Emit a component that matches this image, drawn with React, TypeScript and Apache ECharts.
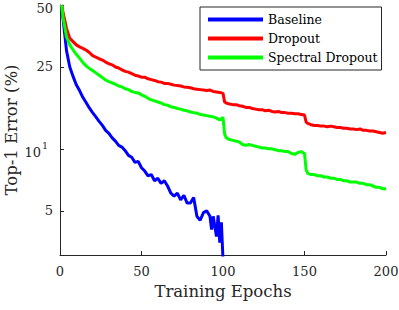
import React, { useEffect, useRef } from "react";
import * as echarts from "echarts";

// ---- data ----
const epochs = [
  1, 2, 4, 6, 8, 10, 12, 14, 16, 18, 20, 22, 24, 26, 28, 30, 32, 34, 36, 38, 40,
  42, 44, 46, 48, 50, 52, 54, 56, 58, 60, 62, 64, 66, 68, 70, 72, 74, 76, 78, 80,
  82, 84, 86, 88, 90, 92, 94, 96, 98, 100, 101, 102, 104, 106, 108, 110, 112, 114,
  116, 118, 120, 122, 124, 126, 128, 130, 132, 134, 136, 138, 140, 142, 144, 146,
  148, 150, 151, 152, 154, 156, 158, 160, 162, 164, 166, 168, 170, 172, 174, 176,
  178, 180, 182, 184, 186, 188, 190, 192, 194, 196, 198, 200,
];

const dropout = [
  50, 45.5, 38.5, 34.5, 33.2, 32.0, 31.3, 30.8, 30.2, 29.4, 28.4, 27.9, 27.4, 27.0,
  26.4, 25.9, 25.6, 25.0, 24.7, 24.2, 23.8, 23.6, 23.2, 22.8, 22.6, 22.3, 22.3, 21.9,
  21.7, 21.5, 21.2, 21.1, 20.8, 20.8, 20.6, 20.4, 20.3, 20.2, 20.0, 19.9, 19.8, 19.6,
  19.5, 19.4, 19.3, 19.2, 19.3, 19.0, 18.9, 18.8, 18.6,
  16.9, 16.7, 16.5, 16.4, 16.4, 16.2, 16.1, 15.9, 15.9, 15.7, 15.6, 15.5, 15.5, 15.3,
  15.4, 15.2, 15.1, 15.2, 15.0, 15.0, 14.9, 14.9, 14.8, 14.8, 14.7, 14.6,
  13.5, 13.3, 13.1, 13.0, 13.0, 12.9, 12.9, 12.8, 12.9, 12.8, 12.7, 12.7, 12.6, 12.6,
  12.5, 12.5, 12.4, 12.5, 12.3, 12.3, 12.2, 12.2, 12.1, 12.0, 11.9, 12.0,
];

const spectralDropout = [
  50, 43, 35, 32, 30.3, 28.8, 27.6, 26.3, 25.3, 24.6, 24.0, 23.4, 22.8, 22.2, 21.6,
  21.2, 20.9, 20.6, 20.2, 20.0, 19.6, 19.4, 19.0, 18.8, 18.7, 18.3, 18.0, 17.6, 17.3,
  17.1, 16.9, 16.7, 16.4, 16.3, 16.0, 15.9, 15.7, 15.6, 15.4, 15.3, 15.1, 15.0, 14.9,
  14.7, 14.6, 14.5, 14.4, 14.3, 14.1, 13.8, 14.2,
  11.8, 11.3, 11.1, 11.0, 10.9, 10.8, 10.5, 10.4, 10.5, 10.4, 10.3, 10.2, 10.1, 10.1,
  10.0, 10.0, 9.9, 9.8, 9.8, 9.7, 9.7, 9.5, 9.4, 9.6, 9.7, 9.5,
  7.9, 7.6, 7.5, 7.5, 7.4, 7.4, 7.3, 7.3, 7.2, 7.2, 7.1, 7.1, 7.0, 7.0, 6.9, 6.9, 6.9,
  6.8, 6.8, 6.7, 6.7, 6.6, 6.5, 6.5, 6.4, 6.4,
];

const baselineEpochs = [
  1, 2, 4, 6, 8, 10, 12, 14, 16, 18, 20, 22, 24, 26, 28, 30, 32, 34, 36, 38, 40,
  42, 44, 46, 48, 50, 52, 54, 56, 58, 60, 62, 64, 66, 68, 70, 72, 74, 76, 78, 80,
  82, 84, 86, 88, 90, 92, 93, 94, 95, 96, 97, 98, 99, 100,
];

const baseline = [
  50, 42, 30, 25, 22.5, 20.5, 19.2, 17.8, 16.8, 15.8, 15.0, 14.3, 13.6, 13.0, 12.3,
  11.9, 11.3, 10.9, 10.4, 10.2, 9.8, 9.3, 9.1, 8.6, 8.7, 8.1, 7.8, 7.4, 7.5, 7.0,
  7.2, 6.8, 7.0, 6.6, 6.1, 5.9, 6.1, 5.65, 5.95, 5.45, 5.45, 5.8, 4.7, 4.5, 4.9, 5.0,
  4.7, 4.05, 4.7, 4.2, 3.75, 4.75, 3.5, 4.4, 2.9,
];

const seriesNames = ["Baseline", "Dropout", "Spectral Dropout"];
const seriesColors = ["#0000ff", "#ff0000", "#00ff00"];
const xTicks = [0, 50, 100, 150, 200];
const yTicks = [5, 10, 25, 50];
const yMin = 3.05;
const yMax = 50;

const FONT = "DejaVu Serif";
const AXIS_COLOR = "#262626";

function pairs(xs: number[], ys: number[]) {
  return xs.map((x, i) => [x, Math.log10(ys[i])]);
}

export default function App() {
  const ref = useRef<HTMLDivElement>(null);

  useEffect(() => {
    if (!ref.current) return;
    const chart = echarts.init(ref.current, undefined, { renderer: "svg" });
    const data = [
      pairs(baselineEpochs, baseline),
      pairs(epochs, dropout),
      pairs(epochs, spectralDropout),
    ];
    chart.setOption({
      animation: false,
      backgroundColor: "#ffffff",
      grid: {
        left: 60,
        right: 13,
        top: 5,
        bottom: 55,
        containLabel: false,
        outerBoundsMode: "none",
      },
      legend: {
        data: seriesNames,
        orient: "vertical",
        left: 200,
        top: 7,
        icon: "rect",
        itemWidth: 55,
        itemHeight: 4,
        itemGap: 0,
        padding: [3, 4, 3, 8],
        borderColor: AXIS_COLOR,
        borderWidth: 1,
        backgroundColor: "#ffffff",
        selectedMode: false,
        textStyle: {
          fontFamily: FONT,
          fontSize: 12.5,
          color: "#000",
          lineHeight: 19,
        },
      },
      xAxis: {
        type: "value",
        min: 0,
        max: 200,
        interval: 50,
        name: "Training Epochs",
        nameLocation: "middle",
        nameGap: 28,
        nameMoveOverlap: false,
        nameTextStyle: { fontFamily: FONT, fontSize: 16.5, color: AXIS_COLOR },
        axisLine: { show: true, lineStyle: { color: AXIS_COLOR, width: 1 } },
        axisTick: {
          show: true,
          inside: true,
          length: 4,
          lineStyle: { color: AXIS_COLOR },
          customValues: xTicks,
        },
        axisLabel: {
          fontFamily: FONT,
          fontSize: 13,
          color: AXIS_COLOR,
          margin: 10,
          customValues: xTicks,
        },
        splitLine: { show: false },
      },
      yAxis: {
        type: "value",
        min: Math.log10(yMin),
        max: Math.log10(yMax),
        name: "Top-1 Error (%)",
        nameLocation: "middle",
        nameGap: 40,
        nameMoveOverlap: false,
        nameTextStyle: { fontFamily: FONT, fontSize: 16.5, color: AXIS_COLOR },
        axisLine: { show: true, lineStyle: { color: AXIS_COLOR, width: 1 } },
        axisTick: {
          show: true,
          inside: true,
          length: 4,
          lineStyle: { color: AXIS_COLOR },
          customValues: yTicks.map((v) => Math.log10(v)),
        },
        axisLabel: {
          fontFamily: FONT,
          fontSize: 13,
          color: AXIS_COLOR,
          margin: 7,
          customValues: yTicks.map((v) => Math.log10(v)),
          formatter: (v: number) => {
            const t = Math.round(Math.pow(10, v));
            if (t === 10) return "{a|10}{s|1}";
            if (t === yMax) return "{top|" + t + "}";
            return String(t);
          },
          rich: {
            a: { fontFamily: FONT, fontSize: 13, color: AXIS_COLOR, padding: [8, 0, 0, 0] },
            s: { fontFamily: FONT, fontSize: 9.5, color: AXIS_COLOR, padding: [0, 5, 6, 1] },
            top: { fontFamily: FONT, fontSize: 13, color: AXIS_COLOR, padding: [7, 0, 0, 0] },
          },
        },
        splitLine: { show: false },
      },
      series: seriesNames.map((name, i) => ({
        name,
        type: "line",
        data: data[i],
        showSymbol: false,
        symbol: "none",
        clip: true,
        color: seriesColors[i],
        lineStyle: { color: seriesColors[i], width: 3 },
      })),
    });
    return () => chart.dispose();
  }, []);

  return (
    <div
      ref={ref}
      style={{ position: "fixed", left: 0, top: 0, width: 399, height: 310 }}
    />
  );
}
